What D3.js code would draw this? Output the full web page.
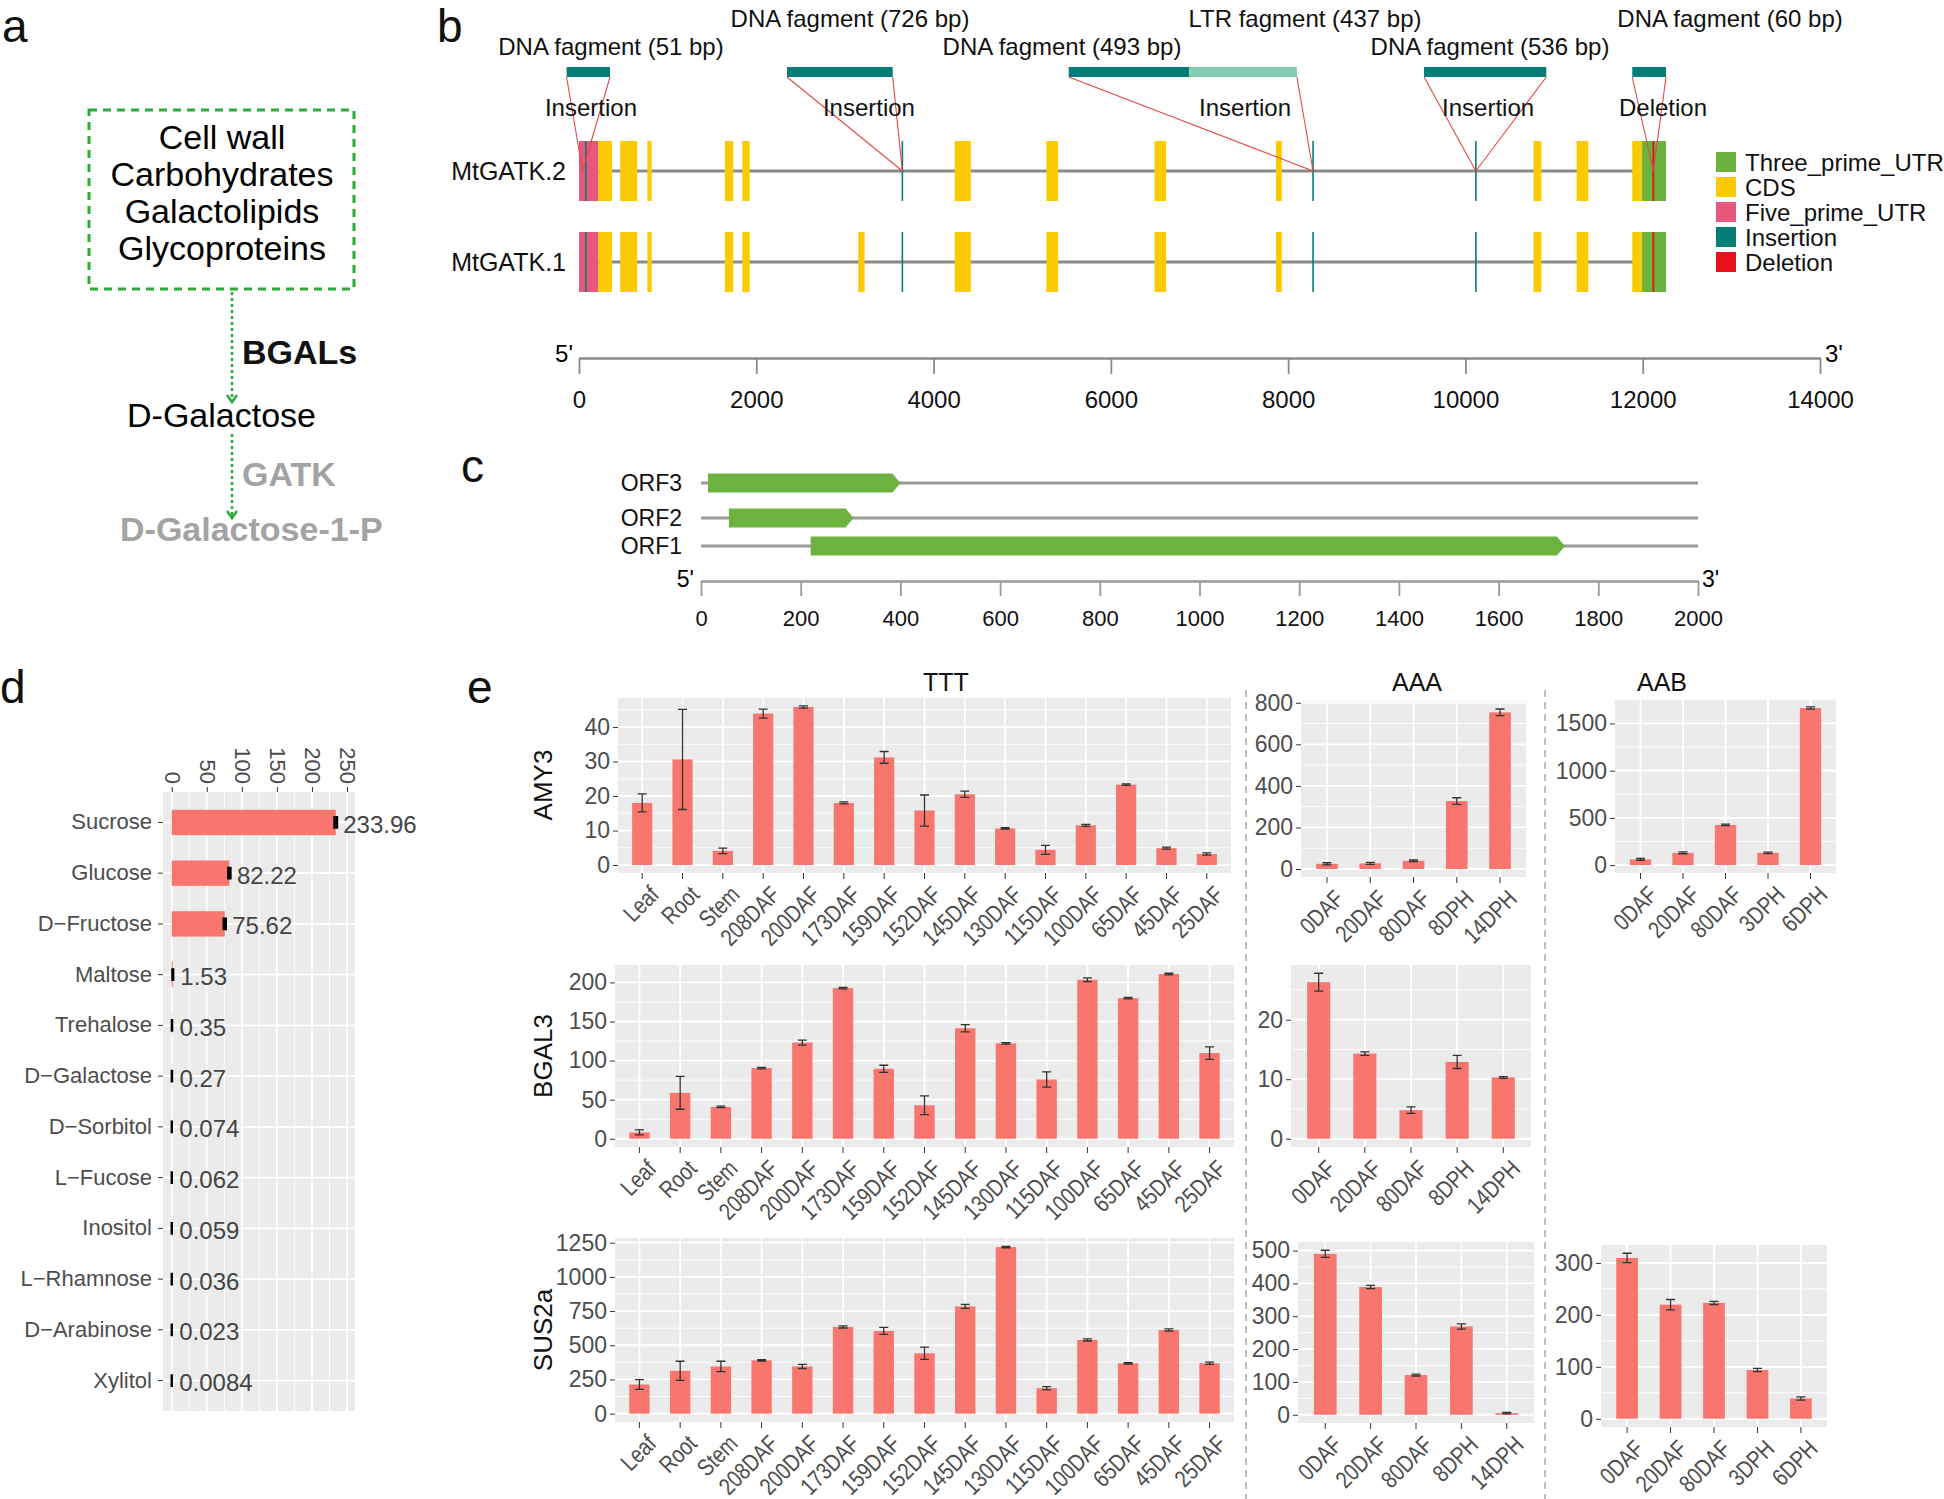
<!DOCTYPE html>
<html><head><meta charset="utf-8">
<script src="https://cdnjs.cloudflare.com/ajax/libs/d3/7.8.5/d3.min.js"></script>
<style>
body{margin:0;background:#fff}
svg{display:block}
text{font-family:"Liberation Sans",Arial,Helvetica,sans-serif}
</style>
</head><body>
<svg id="c" width="1944" height="1499"></svg>
<script>
// ================= DATA =================
// panel a : pathway
const sourceLines = ["Cell wall","Carbohydrates","Galactolipids","Glycoproteins"];
const pathwaySteps = ["BGALs","D-Galactose","GATK","D-Galactose-1-P"];

// panel b : gene structure (bp)
const transcripts = ["MtGATK.2","MtGATK.1"];
const fivePrimeUTR = [[0,219]];
const cdsCommon = [[219,372],[465,656],[771,820],[1646,1740],[1843,1925],[4239,4420],[5273,5404],[6493,6624],[7862,7928],[10768,10857],[11254,11386],[11882,11993]];
const cdsOnlyT1 = [[3151,3222]];
const threePrimeUTR = [[11993,12263]];
const insertionSites = [77,3648,8281,10118];
const deletionSites = [12120];
const fragStart = [-140,2347,5525,6886,9533,11882];
const fragEnd   = [350,3539,6886,8099,10912,12263];
const fragKind  = ["DNA","DNA","DNA","LTR","DNA","DNA"];
const fragLabels = ["DNA fagment (51 bp)","DNA fagment (726 bp)","DNA fagment (493 bp)","LTR fagment (437 bp)","DNA fagment (536 bp)","DNA fagment (60 bp)"];
const fragLabelBp = [361,3057,5449,8190,10277,12985];
const eventNames = ["Insertion","Insertion","Insertion","Insertion","Deletion"];
const eventSite = [40,3648,8281,10118,12120];
const eventFrom = [-140,2347,5525,9533,11882];
const eventTo   = [350,3539,8099,10912,12263];
const eventLabelBp = [135,3271,7514,10256,12229];
const featureNames = ["Three_prime_UTR","CDS","Five_prime_UTR","Insertion","Deletion"];
const genomeTicks = [0,2000,4000,6000,8000,10000,12000,14000];

// panel c : ORFs
const orfNames = ["ORF3","ORF2","ORF1"];
const orfStart = [14,56,220];
const orfEnd   = [400,306,1733];
const orfTicks = [0,200,400,600,800,1000,1200,1400,1600,1800,2000];

// panel d : sugars
const sugars = ["Sucrose","Glucose","D\u2212Fructose","Maltose","Trehalose","D\u2212Galactose","D\u2212Sorbitol","L\u2212Fucose","Inositol","L\u2212Rhamnose","D\u2212Arabinose","Xylitol"];
const sugarValues = [233.96,82.22,75.62,1.53,0.35,0.27,0.074,0.062,0.059,0.036,0.023,0.0084];
const sugarLabels = ["233.96","82.22","75.62","1.53","0.35","0.27","0.074","0.062","0.059","0.036","0.023","0.0084"];
const sugarSD = [1.8,1.5,1.5,0.5,0.1,0.1,0.02,0.02,0.02,0.01,0.01,0.003];
const sugarTicks = [0,50,100,150,200,250];

// panel e : expression
const tttTissues = ["Leaf","Root","Stem","208DAF","200DAF","173DAF","159DAF","152DAF","145DAF","130DAF","115DAF","100DAF","65DAF","45DAF","25DAF"];
const aaaStages = ["0DAF","20DAF","80DAF","8DPH","14DPH"];
const aabStages = ["0DAF","20DAF","80DAF","3DPH","6DPH"];
const genes = ["AMY3","BGAL3","SUS2a"];
const groups = ["TTT","AAA","AAB"];

const amy3TTT   = [18.0,30.6,4.1,43.9,45.8,18.0,31.2,15.8,20.5,10.6,4.4,11.5,23.3,4.9,3.2];
const amy3TTTsd = [2.6,14.5,0.8,1.3,0.3,0.3,1.7,4.5,0.9,0.2,1.3,0.3,0.2,0.3,0.3];
const amy3AAA   = [25,27,40,327,754];
const amy3AAAsd = [5,5,4,16,16];
const amy3AAB   = [60,130,425,130,1663];
const amy3AABsd = [10,10,8,8,12];

const bgal3TTT   = [8.1,58.7,40.7,90.4,123,192.7,89.5,42.8,141.3,122,75.8,203.4,179.9,210.7,109.6];
const bgal3TTTsd = [3.2,21,1,1,3.2,1,4.5,12,4.7,1,9.8,2.5,1,1,8];
const bgal3AAA   = [26.3,14.3,4.8,12.9,10.3];
const bgal3AAAsd = [1.5,0.3,0.55,1.1,0.15];

const sus2aTTT   = [213,313,345,390,345,634,605,441,784,1218,186,539,368,612,368];
const sus2aTTTsd = [35,70,38,5,15,8,25,45,15,5,12,8,5,8,8];
const sus2aAAA   = [490,389,121,269,5];
const sus2aAAAsd = [11,5,3,8,2];
const sus2aAAB   = [309.6,219.6,223,93.8,39];
const sus2aAABsd = [9,10,3,3,3];

const amy3TTTticks = [0,10,20,30,40];
const amy3AAAticks = [0,200,400,600,800];
const amy3AABticks = [0,500,1000,1500];
const bgal3TTTticks = [0,50,100,150,200];
const bgal3AAAticks = [0,10,20];
const sus2aTTTticks = [0,250,500,750,1000,1250];
const sus2aAAAticks = [0,100,200,300,400,500];
const sus2aAABticks = [0,100,200,300];

// ================= DRAW =================
const svg = d3.select("#c");
svg.append("rect").attr("width",1944).attr("height",1499).attr("fill","#fff");

// panel letters
[["a",2,42],["b",437,42],["c",461,482],["d",0,703],["e",467,703]].forEach(([t,x,y])=>{
  svg.append("text").attr("x",x).attr("y",y).attr("font-size",46).attr("fill","#111").text(t);
});

// ---------- panel a ----------
const GREEN = "#2eaa3a";
const ga = svg.append("g");
ga.append("rect").attr("x",89).attr("y",110).attr("width",265).attr("height",179)
  .attr("fill","none").attr("stroke",GREEN).attr("stroke-width",3).attr("stroke-dasharray","8,6");
const boxBase = [149,186,223,260];
sourceLines.forEach((t,i)=>ga.append("text").attr("x",222).attr("y",boxBase[i]).attr("text-anchor","middle")
  .attr("font-size",34).attr("fill","#000").text(t));
function arrow(x,y1,y2){
  ga.append("line").attr("x1",x).attr("x2",x).attr("y1",y1).attr("y2",y2-3)
    .attr("stroke",GREEN).attr("stroke-width",2.5).attr("stroke-dasharray","3,3");
  ga.append("path").attr("d",`M${x-5},${y2-7} L${x},${y2} L${x+5},${y2-7}`).attr("fill","none")
    .attr("stroke",GREEN).attr("stroke-width",2.5);
}
arrow(232,292,402);
arrow(232,434,518);
ga.append("text").attr("x",242).attr("y",364).attr("font-size",34).attr("font-weight","bold").attr("fill","#111").text(pathwaySteps[0]);
ga.append("text").attr("x",127).attr("y",427).attr("font-size",34).attr("fill","#000").text(pathwaySteps[1]);
ga.append("text").attr("x",242).attr("y",486).attr("font-size",34).attr("font-weight","bold").attr("fill","#a3a3a3").text(pathwaySteps[2]);
ga.append("text").attr("x",120).attr("y",541).attr("font-size",34).attr("font-weight","bold").attr("fill","#a3a3a3").text(pathwaySteps[3]);

// ---------- panel b ----------
const featColor = {"Three_prime_UTR":"#6cb33e","CDS":"#fcca00","Five_prime_UTR":"#e8577b","Insertion":"#077d77","Deletion":"#e8101c"};
const gb = svg.append("g");
const bx = d3.scaleLinear().domain([0,14000]).range([579,1820]);
const ty = d3.scalePoint().domain(transcripts).range([171,262]);
const half = 30;

transcripts.forEach(t=>{
  const yc = ty(t);
  gb.append("line").attr("x1",bx(0)).attr("x2",bx(12263)).attr("y1",yc).attr("y2",yc)
    .attr("stroke","#8a8a8a").attr("stroke-width",3);
  const feats = [
    ...fivePrimeUTR.map(d=>({s:d[0],e:d[1],type:"Five_prime_UTR"})),
    ...cdsCommon.map(d=>({s:d[0],e:d[1],type:"CDS"})),
    ...(t==="MtGATK.1"?cdsOnlyT1:[]).map(d=>({s:d[0],e:d[1],type:"CDS"})),
    ...threePrimeUTR.map(d=>({s:d[0],e:d[1],type:"Three_prime_UTR"}))
  ];
  gb.selectAll(null).data(feats).join("rect")
    .attr("x",d=>bx(d.s)).attr("width",d=>bx(d.e)-bx(d.s))
    .attr("y",yc-half).attr("height",2*half).attr("fill",d=>featColor[d.type]);
  gb.selectAll(null).data(insertionSites).join("line")
    .attr("x1",d=>bx(d)).attr("x2",d=>bx(d)).attr("y1",yc-half).attr("y2",yc+half)
    .attr("stroke",featColor.Insertion).attr("stroke-width",1.6);
  gb.selectAll(null).data(deletionSites).join("line")
    .attr("x1",d=>bx(d)).attr("x2",d=>bx(d)).attr("y1",yc-half).attr("y2",yc+half)
    .attr("stroke","#d81e1e").attr("stroke-width",2);
  gb.append("text").attr("x",566).attr("y",yc).attr("dominant-baseline","central").attr("text-anchor","end")
    .attr("font-size",25).attr("fill","#111").text(t);
});

// fragment bars
const barTop = 67, barH = 10;
fragStart.forEach((s,i)=>{
  gb.append("rect").attr("x",bx(s)).attr("width",bx(fragEnd[i])-bx(s)).attr("y",barTop).attr("height",barH)
    .attr("fill",fragKind[i]==="LTR"?"#82ccb6":featColor.Insertion);
  gb.append("text").attr("x",bx(fragLabelBp[i])).attr("y",i%2===0?55:27).attr("text-anchor","middle")
    .attr("font-size",24).attr("fill","#111").text(fragLabels[i]);
});
// connectors
const siteY = ty(transcripts[0]);
eventSite.forEach((s,i)=>{
  [eventFrom[i],eventTo[i]].forEach(e=>{
    gb.append("line").attr("x1",bx(e)).attr("y1",barTop+barH).attr("x2",bx(s)).attr("y2",siteY)
      .attr("stroke","#e34848").attr("stroke-width",1.1);
  });
  gb.append("text").attr("x",bx(eventLabelBp[i])).attr("y",116).attr("text-anchor","middle")
    .attr("font-size",24).attr("fill","#111").text(eventNames[i]);
});
// legend
const legY = d3.scalePoint().domain(featureNames).range([162,262]);
featureNames.forEach(f=>{
  gb.append("rect").attr("x",1716).attr("y",legY(f)-10).attr("width",20).attr("height",20).attr("fill",featColor[f]);
  gb.append("text").attr("x",1745).attr("y",legY(f)).attr("dominant-baseline","central")
    .attr("font-size",24).attr("fill","#111").text(f);
});
// axis
const axB = gb.append("g").attr("transform","translate(0,358)")
  .call(d3.axisBottom(bx).tickValues(genomeTicks).tickSize(16).tickSizeOuter(0).tickPadding(17).tickFormat(d3.format("d")));
axB.select(".domain").attr("stroke","#8a8a8a").attr("stroke-width",2.5);
axB.selectAll(".tick line").attr("stroke","#8a8a8a").attr("stroke-width",1.8);
axB.selectAll(".tick text").attr("font-size",24).attr("fill","#111").attr("font-family",null);
gb.append("text").attr("x",573).attr("y",362).attr("text-anchor","end").attr("font-size",24).text("5'");
gb.append("text").attr("x",1825).attr("y",362).attr("font-size",24).text("3'");

// ---------- panel c ----------
const gc = svg.append("g");
const cx = d3.scaleLinear().domain([0,2000]).range([701,1698]);
const orfY = d3.scaleOrdinal().domain(orfNames).range([483,518,546]);
const orfH = 19, head = 8;
orfNames.forEach((o,i)=>{
  const yc = orfY(o);
  gc.append("line").attr("x1",cx(0)).attr("x2",cx(2000)).attr("y1",yc).attr("y2",yc)
    .attr("stroke","#999").attr("stroke-width",3);
  const xs = cx(orfStart[i]), xe = cx(orfEnd[i]);
  gc.append("path").attr("d",`M${xs},${yc-orfH/2} L${xe-head},${yc-orfH/2} L${xe},${yc} L${xe-head},${yc+orfH/2} L${xs},${yc+orfH/2} Z`)
    .attr("fill","#6db33f");
  gc.append("text").attr("x",682).attr("y",yc).attr("dominant-baseline","central").attr("text-anchor","end")
    .attr("font-size",23).attr("fill","#111").text(o);
});
const axC = gc.append("g").attr("transform","translate(0,581)")
  .call(d3.axisBottom(cx).tickValues(orfTicks).tickSize(15).tickSizeOuter(0).tickPadding(14).tickFormat(d3.format("d")));
axC.select(".domain").attr("stroke","#999").attr("stroke-width",2.5);
axC.selectAll(".tick line").attr("stroke","#999").attr("stroke-width",1.8);
axC.selectAll(".tick text").attr("font-size",22).attr("fill","#111").attr("font-family",null);
gc.append("text").attr("x",694).attr("y",587).attr("text-anchor","end").attr("font-size",23).text("5'");
gc.append("text").attr("x",1702).attr("y",587).attr("font-size",23).text("3'");

// ---------- panel d ----------
const gd = svg.append("g");
const dL = 163, dR = 355, dT = 792, dB = 1411;
const labelOffset = 15;
const dMax = d3.max(sugarValues) + labelOffset;
const dx = d3.scaleLinear().domain([-0.05*dMax, 1.05*dMax]).range([dL,dR]);
const dy = d3.scaleBand().domain(sugars).range([dT,dB]).paddingInner(0.5).paddingOuter(0.35);
gd.append("rect").attr("x",dL).attr("y",dT).attr("width",dR-dL).attr("height",dB-dT).attr("fill","#ebebeb");
const dMinor = sugarTicks.map(t=>t+25).filter(t=>dx(t)<dR);
gd.selectAll(null).data(dMinor).join("line").attr("x1",d=>dx(d)).attr("x2",d=>dx(d)).attr("y1",dT).attr("y2",dB)
  .attr("stroke","#fff").attr("stroke-width",0.9);
gd.selectAll(null).data(sugarTicks).join("line").attr("x1",d=>dx(d)).attr("x2",d=>dx(d)).attr("y1",dT).attr("y2",dB)
  .attr("stroke","#fff").attr("stroke-width",1.8);
gd.selectAll(null).data(sugars).join("line").attr("y1",d=>dy(d)+dy.bandwidth()/2).attr("y2",d=>dy(d)+dy.bandwidth()/2)
  .attr("x1",dL).attr("x2",dR).attr("stroke","#fff").attr("stroke-width",1.8);
gd.selectAll(null).data(sugars).join("rect").attr("x",dx(0)).attr("y",d=>dy(d))
  .attr("width",(d,i)=>dx(sugarValues[i])-dx(0)).attr("height",dy.bandwidth()).attr("fill","#f8766d");
sugars.forEach((s,i)=>{
  const yc = dy(s)+dy.bandwidth()/2, w = dy.bandwidth()/2;
  const a = dx(sugarValues[i]-sugarSD[i]), b = dx(sugarValues[i]+sugarSD[i]);
  gd.append("path").attr("d",`M${a},${yc-w/2}V${yc+w/2}M${b},${yc-w/2}V${yc+w/2}M${a},${yc}H${b}`)
    .attr("stroke","#000").attr("stroke-width",2.4).attr("fill","none");
  gd.append("text").attr("x",dx(sugarValues[i]+labelOffset)-3).attr("y",yc+2).attr("dominant-baseline","central")
    .attr("font-size",24).attr("fill","#444").text(sugarLabels[i]);
});
const axDL = gd.append("g").attr("transform",`translate(${dL},0)`)
  .call(d3.axisLeft(dy).tickSize(5).tickPadding(6));
axDL.select(".domain").remove();
axDL.selectAll(".tick line").attr("stroke","#333");
axDL.selectAll(".tick text").attr("font-size",22).attr("fill","#4d4d4d").attr("font-family",null);
const axDT = gd.append("g").attr("transform",`translate(0,${dT})`)
  .call(d3.axisTop(dx).tickValues(sugarTicks).tickSize(5));
axDT.select(".domain").remove();
axDT.selectAll(".tick line").attr("stroke","#333");
axDT.selectAll(".tick text").attr("x",-8).attr("y",0).attr("dy",null).attr("text-anchor","end")
  .attr("dominant-baseline","central").attr("transform","rotate(90)")
  .attr("font-size",22).attr("fill","#4d4d4d").attr("font-family",null);

// ---------- panel e ----------
const ge = svg.append("g");
function barPanel(frame, cats, vals, sds, ticks){
  const [x0,x1,y0,y1] = frame;
  const g = ge.append("g");
  const xb = d3.scaleBand().domain(cats).range([x0,x1]).paddingInner(0.5).paddingOuter(0.35);
  const M = d3.max(vals.map((v,i)=>v+sds[i]));
  const y = d3.scaleLinear().domain([-0.05*M,1.05*M]).range([y1,y0]);
  g.append("rect").attr("x",x0).attr("y",y0).attr("width",x1-x0).attr("height",y1-y0).attr("fill","#ebebeb");
  const step = ticks[1]-ticks[0];
  const minors = d3.range(ticks[0]-step/2, ticks[ticks.length-1]+step, step).filter(t=>t>y.domain()[0]&&t<y.domain()[1]);
  g.selectAll(null).data(minors).join("line").attr("x1",x0).attr("x2",x1).attr("y1",d=>y(d)).attr("y2",d=>y(d))
    .attr("stroke","#fff").attr("stroke-width",0.9);
  g.selectAll(null).data(ticks).join("line").attr("x1",x0).attr("x2",x1).attr("y1",d=>y(d)).attr("y2",d=>y(d))
    .attr("stroke","#fff").attr("stroke-width",1.8);
  g.selectAll(null).data(cats).join("line").attr("x1",d=>xb(d)+xb.bandwidth()/2).attr("x2",d=>xb(d)+xb.bandwidth()/2)
    .attr("y1",y0).attr("y2",y1).attr("stroke","#fff").attr("stroke-width",1.8);
  g.selectAll(null).data(cats).join("rect").attr("x",d=>xb(d)).attr("width",xb.bandwidth())
    .attr("y",(d,i)=>y(vals[i])).attr("height",(d,i)=>y(0)-y(vals[i])).attr("fill","#f8766d");
  cats.forEach((c,i)=>{
    const xc = xb(c)+xb.bandwidth()/2, w = 4.5;
    const a = y(vals[i]-sds[i]), b = y(vals[i]+sds[i]);
    g.append("path").attr("d",`M${xc-w},${a}H${xc+w}M${xc-w},${b}H${xc+w}M${xc},${a}V${b}`)
      .attr("stroke","#333").attr("stroke-width",1.3).attr("fill","none");
  });
  const ay = g.append("g").attr("transform",`translate(${x0},0)`)
    .call(d3.axisLeft(y).tickValues(ticks).tickSize(5).tickPadding(3).tickFormat(d3.format("d")));
  ay.select(".domain").remove();
  ay.selectAll(".tick line").attr("stroke","#333");
  ay.selectAll(".tick text").attr("font-size",23).attr("fill","#4d4d4d").attr("font-family",null);
  const ax = g.append("g").attr("transform",`translate(0,${y1})`)
    .call(d3.axisBottom(xb).tickSize(6).tickSizeOuter(0));
  ax.select(".domain").remove();
  ax.selectAll(".tick line").attr("stroke","#333");
  ax.selectAll(".tick text").attr("x",0).attr("y",0).attr("dy","0.72em").attr("text-anchor","end")
    .attr("transform","translate(6,11) rotate(-45) scale(0.82,1)")
    .attr("font-size",24).attr("fill","#4d4d4d").attr("font-family",null);
}
barPanel([618,1231,698,873], tttTissues, amy3TTT, amy3TTTsd, amy3TTTticks);
barPanel([1301,1526,701,877], aaaStages, amy3AAA, amy3AAAsd, amy3AAAticks);
barPanel([1615,1836,699,873], aabStages, amy3AAB, amy3AABsd, amy3AABticks);
barPanel([615,1234,965,1147], tttTissues, bgal3TTT, bgal3TTTsd, bgal3TTTticks);
barPanel([1291,1531,965,1147], aaaStages, bgal3AAA, bgal3AAAsd, bgal3AAAticks);
barPanel([615,1234,1238,1422], tttTissues, sus2aTTT, sus2aTTTsd, sus2aTTTticks);
barPanel([1298,1534,1242,1423], aaaStages, sus2aAAA, sus2aAAAsd, sus2aAAAticks);
barPanel([1601,1827,1245,1427], aabStages, sus2aAAB, sus2aAABsd, sus2aAABticks);

// facet titles, row labels, separators
const titleX = [946,1417,1662];
groups.forEach((g,i)=>ge.append("text").attr("x",titleX[i]).attr("y",691).attr("text-anchor","middle")
  .attr("font-size",25).attr("fill","#111").text(g));
const rowY = [785,1056,1330];
genes.forEach((g,i)=>ge.append("text").attr("transform",`translate(543,${rowY[i]}) rotate(-90)`)
  .attr("text-anchor","middle").attr("dominant-baseline","central").attr("font-size",26).attr("fill","#111").text(g));
[1246,1545].forEach(x=>ge.append("line").attr("x1",x).attr("x2",x).attr("y1",690).attr("y2",1499)
  .attr("stroke","#aaa").attr("stroke-width",1.5).attr("stroke-dasharray","7,5"));
</script>
</body></html>
